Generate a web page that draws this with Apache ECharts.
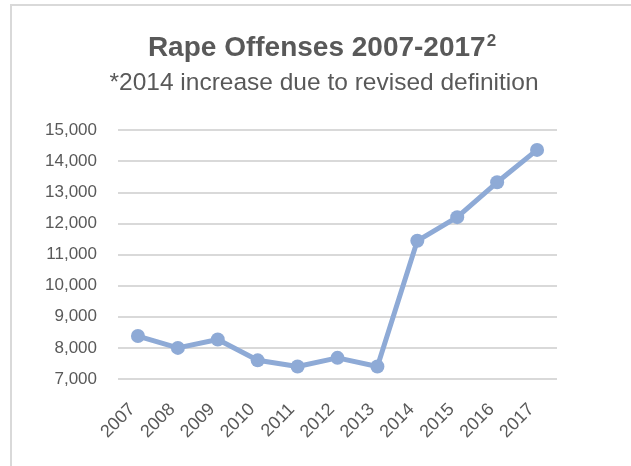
<!DOCTYPE html>
<html>
<head>
<meta charset="utf-8">
<script src="https://cdn.jsdelivr.net/npm/echarts@6/dist/echarts.min.js"></script>
<style>
  html, body { margin: 0; padding: 0; background: #fff; }
  #chart { width: 631px; height: 466px; }
</style>
</head>
<body>
<div id="chart"></div>
<script>
// Reported rape offenses per year
const years = ['2007', '2008', '2009', '2010', '2011', '2012', '2013', '2014', '2015', '2016', '2017'];
const offenses = [8380, 8000, 8270, 7600, 7400, 7680, 7400, 11440, 12200, 13320, 14360];
const yTicks = { min: 7000, max: 15000, step: 1000 };

const textColor = '#595959';
const fontFamily = '"Liberation Sans", Arial, sans-serif';

const chart = echarts.init(document.getElementById('chart'));
chart.setOption({
  animation: false,
  backgroundColor: '#fff',
  textStyle: { fontFamily: fontFamily },
  graphic: [
    { type: 'line', shape: { x1: 10, y1: 5, x2: 631, y2: 5 }, style: { stroke: '#d9d9d9', lineWidth: 2 } },
    { type: 'line', shape: { x1: 11, y1: 4, x2: 11, y2: 466 }, style: { stroke: '#d9d9d9', lineWidth: 2 } }
  ],
  title: [
    {
      text: '{m|Rape Offenses 2007-2017}{s|2}',
      left: 317,
      textAlign: 'center',
      top: 28,
      textStyle: {
        rich: {
          m: { fontSize: 28, fontWeight: 'bold', color: textColor, fontFamily: fontFamily },
          s: { fontSize: 17, fontWeight: 'bold', color: textColor, fontFamily: fontFamily, verticalAlign: 'top', padding: [0, 0, 13, 1] }
        }
      }
    },
    {
      text: '*2014 increase due to revised definition',
      left: 319,
      textAlign: 'center',
      top: 66,
      textStyle: { fontSize: 24.5, fontWeight: 'normal', color: textColor, fontFamily: fontFamily }
    }
  ],
  grid: { left: 118, right: 74, top: 130, bottom: 87, containLabel: false },
  xAxis: {
    type: 'category',
    data: years,
    boundaryGap: true,
    axisLine: { show: false },
    axisTick: { show: false },
    axisLabel: { rotate: 45, color: textColor, fontSize: 18, margin: 22, padding: [0, 8, 0, 0], interval: 0 }
  },
  yAxis: {
    type: 'value',
    min: yTicks.min,
    max: yTicks.max,
    interval: yTicks.step,
    axisLine: { show: false },
    axisTick: { show: false },
    splitLine: { lineStyle: { color: '#d9d9d9', width: 2 } },
    axisLabel: {
      color: textColor,
      fontSize: 17,
      margin: 21,
      formatter: v => v.toLocaleString('en-US')
    }
  },
  series: [{
    type: 'line',
    data: offenses,
    symbol: 'circle',
    symbolSize: 14,
    lineStyle: { color: '#8eaad6', width: 5 },
    itemStyle: { color: '#8eaad6' }
  }]
});
</script>
</body>
</html>
